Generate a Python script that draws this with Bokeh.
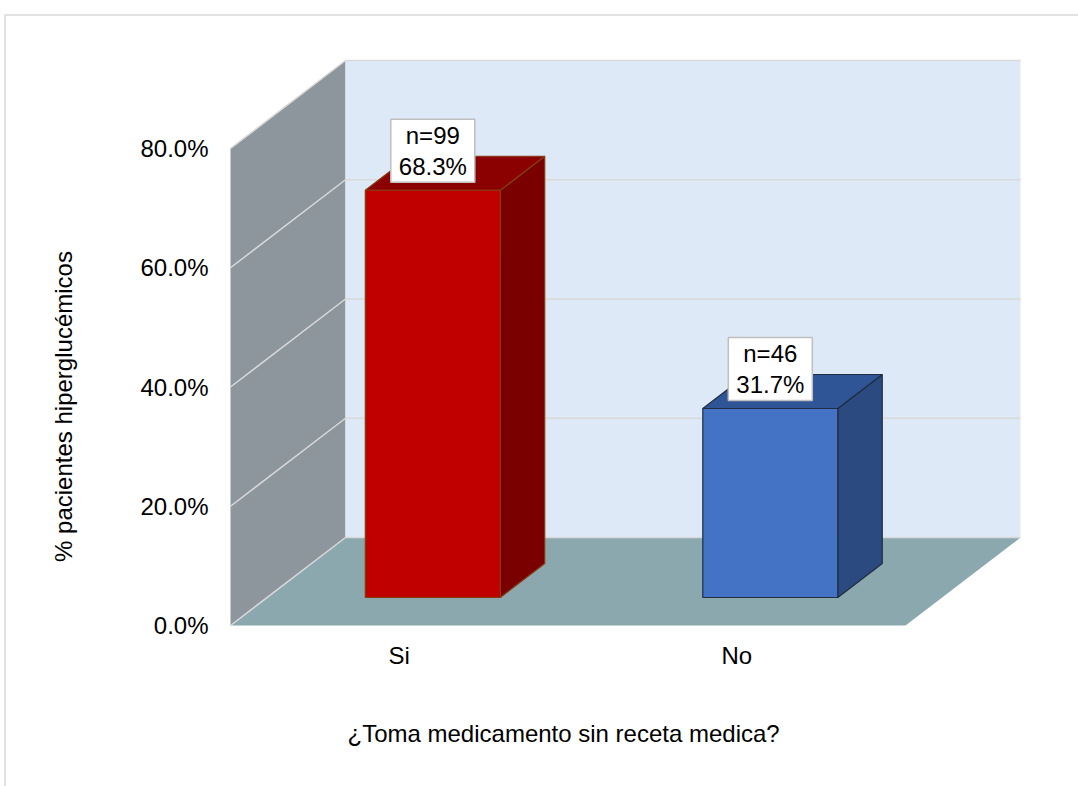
import math
from bokeh.plotting import figure
from bokeh.models import Range1d
from bokeh.core.properties import value
from bokeh.embed import file_html
from bokeh.resources import INLINE

# ---------------- data ----------------
categories = ["Si", "No"]
percentages = [68.3, 31.7]
counts = [99, 46]
y_ticks = [0, 20, 40, 60, 80]
x_title = "¿Toma medicamento sin receta medica?"
y_title = "% pacientes hiperglucémicos"

front_colors = ["#C00000", "#4472C4"]
top_colors = ["#8B0000", "#2F5597"]
side_colors = ["#7A0000", "#2A4A80"]
edge_colors = ["#843C0C", "#1F2D40"]

# ---------------- layout (pixels) ----------------
W, H = 1078, 786
X0_PX = 230.0          # left end of category axis on the front plane
CAT_PX = 337.5         # pixels per category
Y0_PX = 625.0          # pixel row of 0 % on the front plane
V_PX = 119.25 / 20.0   # pixels per percent
DEPTH_DX_PX = 115.0
DEPTH_DY_PX = 88.0
BAR_W = 0.4
BAR_SHIFT = -0.009     # small left shift of the bars within each category
F0 = 28.0 / 88.0       # bar front depth fraction
F1 = 62.0 / 88.0       # bar back depth fraction
V_MAX = 80
N = len(categories)
FONT = value("Liberation Sans")
FS = value("24px")


def c_of(px):
    return (px - X0_PX) / CAT_PX


def v_of(py):
    return (Y0_PX - py) / V_PX


DX = DEPTH_DX_PX / CAT_PX
DY = DEPTH_DY_PX / V_PX


def proj(c, v, d):
    return c + d * DX, v + d * DY


def poly(points):
    xs = [pt[0] for pt in points]
    ys = [pt[1] for pt in points]
    return xs, ys


p = figure(width=W, height=H,
           x_range=Range1d(c_of(0), c_of(W)),
           y_range=Range1d(v_of(H), v_of(0)),
           x_axis_location=None, y_axis_location=None,
           toolbar_location=None, output_backend="svg",
           min_border=0, outline_line_color=None,
           background_fill_color="white", border_fill_color="white")
p.xgrid.visible = False
p.ygrid.visible = False

# outer chart border
p.line(x=[c_of(4.5), c_of(4.5), c_of(W + 5)],
       y=[v_of(H + 5), v_of(14.5), v_of(14.5)],
       line_color="#D9D9D9", line_width=1.5)

# walls and floor
walls = [
    [proj(0, 0, 0), proj(0, 0, 1), proj(0, V_MAX, 1), proj(0, V_MAX, 0)],
    [proj(0, 0, 1), proj(N, 0, 1), proj(N, V_MAX, 1), proj(0, V_MAX, 1)],
    [proj(0, 0, 0), proj(N, 0, 0), proj(N, 0, 1), proj(0, 0, 1)],
]
wall_colors = ["#8D959D", "#DEE9F7", "#8AA8AE"]
wx, wy = zip(*[poly(w) for w in walls])
p.patches(xs=list(wx), ys=list(wy), fill_color=wall_colors, line_color=None)

# gridlines on back wall and side wall
gx, gy = [], []
for t in y_ticks:
    for seg in ([proj(0, t, 1), proj(N, t, 1)], [proj(0, t, 0), proj(0, t, 1)]):
        sx, sy = poly(seg)
        gx.append(sx)
        gy.append(sy)
p.multi_line(xs=gx, ys=gy, line_color="#D9D9D9", line_width=1.5)

# bars
for i, val in enumerate(percentages):
    cx = i + 0.5 + BAR_SHIFT
    x0, x1 = cx - BAR_W / 2, cx + BAR_W / 2
    front = [proj(x0, 0, F0), proj(x1, 0, F0), proj(x1, val, F0), proj(x0, val, F0)]
    top = [proj(x0, val, F0), proj(x1, val, F0), proj(x1, val, F1), proj(x0, val, F1)]
    side = [proj(x1, 0, F0), proj(x1, 0, F1), proj(x1, val, F1), proj(x1, val, F0)]
    bx, by = zip(*[poly(f) for f in (side, top, front)])
    p.patches(xs=list(bx), ys=list(by),
              fill_color=[side_colors[i], top_colors[i], front_colors[i]],
              line_color=edge_colors[i], line_width=1.2)

# data labels
lab_x = [i + 0.5 + BAR_SHIFT + F0 * DX for i in range(N)]
lab_y = [val + F0 * DY + 39.5 / V_PX for val in percentages]
lab_t = [f"n={n}\n{v:.1f}%" for n, v in zip(counts, percentages)]
p.rect(x=lab_x, y=lab_y, width=84, height=63, width_units="screen",
       height_units="screen", fill_color="white", line_color="#BFBFBF",
       line_width=1.5)
p.text(x=lab_x, y=lab_y, text=lab_t, text_align="center",
       text_baseline="middle", text_font=FONT, text_font_size=FS,
       text_line_height=1.15, text_color="#000000")

# y tick labels
p.text(x=[c_of(208)] * len(y_ticks), y=y_ticks,
       text=[f"{t:.1f}%" for t in y_ticks], text_align="right",
       text_baseline="middle", text_font=FONT, text_font_size=FS,
       text_color="#000000")

# category labels
p.text(x=[i + 0.5 for i in range(N)], y=[v_of(655)] * N, text=categories,
       text_align="center", text_baseline="middle", text_font=FONT,
       text_font_size=FS, text_color="#000000")

# axis titles
p.text(x=[N / 2 - 0.013], y=[v_of(733)], text=[x_title], text_align="center",
       text_baseline="middle", text_font=FONT, text_font_size=FS,
       text_color="#000000")
p.text(x=[c_of(63)], y=[v_of(406)], text=[y_title], angle=math.pi / 2,
       text_align="center", text_baseline="middle", text_font=FONT,
       text_font_size=FS, text_color="#000000")

open("out.html", "w").write(file_html(p, INLINE))
